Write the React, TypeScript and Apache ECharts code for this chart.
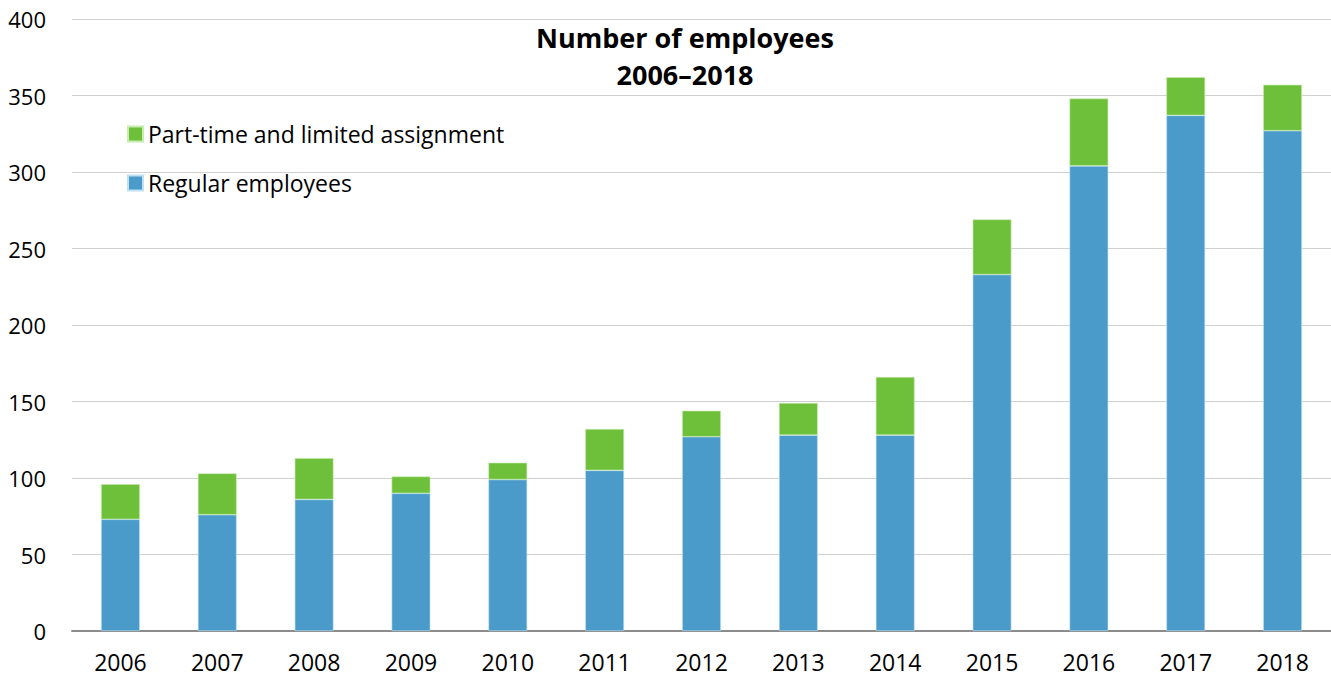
import React, { useEffect, useRef } from "react";
import * as echarts from "echarts";

const years = ["2006", "2007", "2008", "2009", "2010", "2011", "2012", "2013", "2014", "2015", "2016", "2017", "2018"];
const regularEmployees = [73, 76, 86, 90, 99, 105, 127, 128, 128, 233, 304, 337, 327];
const partTimeLimited = [23, 27, 27, 11, 11, 27, 17, 21, 38, 36, 44, 25, 30];
const yTicks = { min: 0, max: 400, interval: 50 };

const FONT = "'Open Sans', 'Noto Sans', sans-serif";

export default function App() {
  const ref = useRef<HTMLDivElement>(null);
  useEffect(() => {
    document.body.style.margin = "0";
    const chart = echarts.init(ref.current!, null, { renderer: "svg" });
    chart.setOption({
      animation: false,
      backgroundColor: "#ffffff",
      title: {
        text: "Number of employees\n2006–2018",
        left: 680,
        top: 14,
        textAlign: "center",
        textStyle: {
          fontFamily: FONT,
          fontSize: 27,
          fontWeight: "bold",
          color: "#000000",
          lineHeight: 37,
        },
      },
      legend: {
        orient: "vertical",
        left: 122,
        top: 117,
        itemWidth: 15,
        itemHeight: 15,
        itemGap: 25,
        icon: "rect",
        data: ["Part-time and limited assignment", "Regular employees"],
        textStyle: { fontFamily: FONT, fontSize: 23, lineHeight: 24, color: "#000000" },
      },
      grid: { left: 72, right: 0, top: 19, bottom: 48, containLabel: false },
      xAxis: {
        type: "category",
        data: years,
        axisLine: { lineStyle: { color: "#8c8c8c", width: 2 } },
        axisTick: { show: false },
        axisLabel: { fontFamily: FONT, fontSize: 23, color: "#000000", margin: 19 },
      },
      yAxis: {
        type: "value",
        min: yTicks.min,
        max: yTicks.max,
        interval: yTicks.interval,
        axisLine: { show: false },
        axisTick: { show: false },
        splitLine: { lineStyle: { color: "#d0d0d0", width: 1 } },
        axisLabel: { fontFamily: FONT, fontSize: 22, color: "#000000", margin: 26 },
      },
      series: [
        {
          name: "Regular employees",
          type: "bar",
          stack: "total",
          data: regularEmployees,
          barWidth: "40%",
          itemStyle: { color: "#4a9bc9", borderColor: "#bfe0f2", borderWidth: 0.6 },
        },
        {
          name: "Part-time and limited assignment",
          type: "bar",
          stack: "total",
          data: partTimeLimited,
          barWidth: "40%",
          itemStyle: { color: "#6ebf3a", borderColor: "#c8ebb0", borderWidth: 0.6 },
        },
      ],
    });
    return () => chart.dispose();
  }, []);
  return <div ref={ref} style={{ width: 1331, height: 679 }} />;
}
